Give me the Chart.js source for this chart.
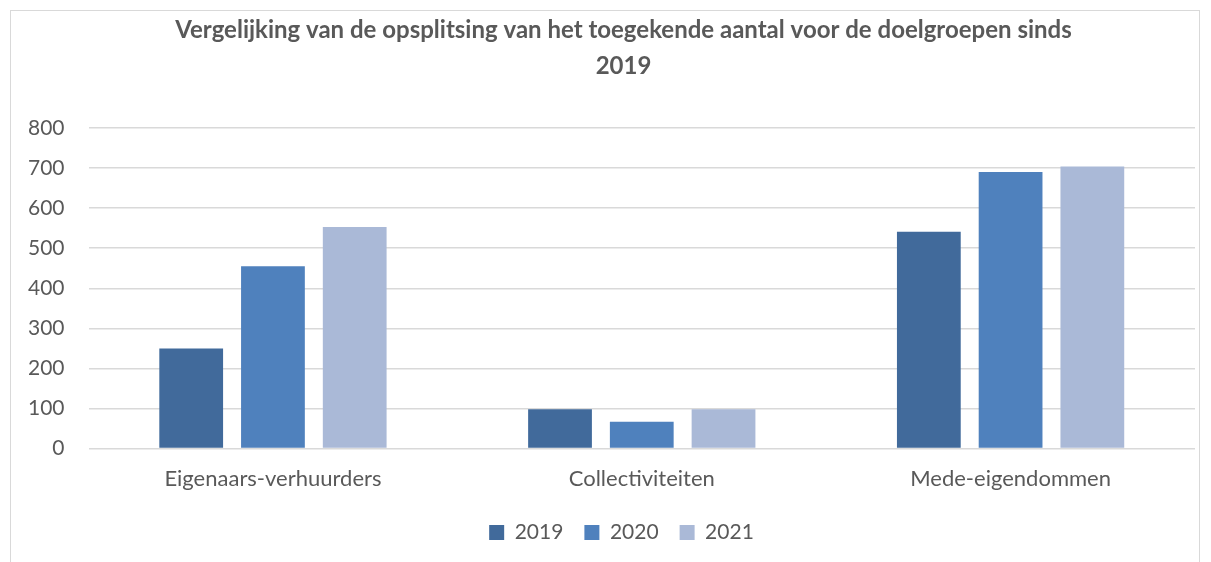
<!DOCTYPE html>
<html>
<head>
<meta charset="utf-8">
<script src="https://cdn.jsdelivr.net/npm/chart.js@4/dist/chart.umd.min.js"></script>
<style>
  html, body { margin: 0; padding: 0; background: #fff; }
  #frame { position: absolute; left: 10px; top: 10px; width: 1190px; height: 560px; border: 1px solid #d9d9d9; box-sizing: border-box; }
  #wrap { position: absolute; left: 0; top: 0; width: 1211px; height: 562px; }
</style>
</head>
<body>
<div id="frame"></div>
<div id="wrap"><canvas id="c" width="1211" height="562"></canvas></div>
<script>
const categories = ["Eigenaars-verhuurders", "Collectiviteiten", "Mede-eigendommen"];
const seriesNames = ["2019", "2020", "2021"];
const values2019 = [250, 98, 541];
const values2020 = [455, 67, 690];
const values2021 = [553, 98, 704];
const yTicks = [0, 100, 200, 300, 400, 500, 600, 700, 800];
const titleLines = ["Vergelijking van de opsplitsing van het toegekende aantal voor de doelgroepen sinds", "2019"];

const colors = ["#416A9B", "#4F81BD", "#AAB9D7"];
const fontFam = "Lato, 'Open Sans', sans-serif";

// centre title and legend on the outer frame rather than on the padded layout box
const shiftBlocks = {
  id: 'shiftBlocks',
  afterLayout(chart) {
    if (chart.titleBlock) { chart.titleBlock.left += 48; }
    if (chart.legend) { chart.legend.left += 44; }
  }
};

new Chart(document.getElementById('c'), {
  type: 'bar',
  data: {
    labels: categories,
    datasets: [values2019, values2020, values2021].map((v, i) => ({
      label: seriesNames[i],
      data: v,
      backgroundColor: colors[i],
      borderWidth: 0,
      categoryPercentage: 0.665,
      barPercentage: 0.78
    }))
  },
  options: {
    responsive: false,
    animation: false,
    layout: { padding: { left: 4, right: 16, top: 8, bottom: 9 } },
    plugins: {
      title: {
        display: true,
        text: titleLines,
        color: '#595959',
        font: { family: fontFam, size: 24, weight: 'bold', lineHeight: 1.5 },
        padding: { top: 4, bottom: 44 }
      },
      legend: {
        position: 'bottom',
        labels: {
          color: '#595959',
          font: { family: fontFam, size: 21 },
          boxWidth: 15,
          boxHeight: 15,
          padding: 21
        }
      },
      tooltip: { enabled: false }
    },
    scales: {
      x: {
        grid: { display: false },
        border: { display: false },
        ticks: { color: '#595959', font: { family: fontFam, size: 22 }, padding: 9 }
      },
      y: {
        min: 0,
        max: 800,
        afterBuildTicks: (axis) => { axis.ticks = yTicks.map(v => ({ value: v })); },
        grid: { color: '#d9d9d9', lineWidth: 1.5, drawTicks: false },
        border: { display: false },
        ticks: { color: '#595959', font: { family: fontFam, size: 21 }, padding: 24 }
      }
    }
  },
  plugins: [shiftBlocks]
});
</script>
</body>
</html>
